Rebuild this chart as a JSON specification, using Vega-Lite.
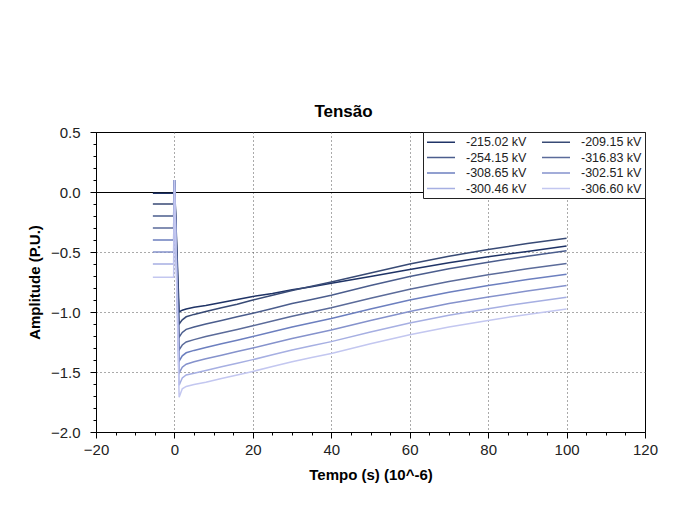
{
  "$schema": "https://vega.github.io/schema/vega-lite/v6.json",
  "width": 549,
  "height": 300,
  "autosize": {"type": "none"},
  "padding": {"left": 96, "top": 132, "right": 36, "bottom": 99},
  "background": "white",
  "title": {"text": "Tensão", "font": "Liberation Sans", "fontSize": 17, "fontWeight": "bold", "color": "#000", "frame": "group", "anchor": "middle", "dx": -27, "dy": 15, "offset": 6, "baseline": "alphabetic"},
  "config": {"view": {"stroke": "#000", "strokeWidth": 1}, "font": "Liberation Sans"},
  "datasets": {
    "curves": [
      {"s":"-215.02 kV","t":-5.5,"v":-0.01},{"s":"-215.02 kV","t":-0.2,"v":-0.01},{"s":"-215.02 kV","t":0,"v":0.1},{"s":"-215.02 kV","t":1.2,"v":-1.0},{"s":"-215.02 kV","t":2,"v":-0.985},{"s":"-215.02 kV","t":3,"v":-0.975},{"s":"-215.02 kV","t":5,"v":-0.96},{"s":"-215.02 kV","t":8,"v":-0.945},{"s":"-215.02 kV","t":12,"v":-0.92},{"s":"-215.02 kV","t":16,"v":-0.895},{"s":"-215.02 kV","t":20,"v":-0.87},{"s":"-215.02 kV","t":25,"v":-0.845},{"s":"-215.02 kV","t":30,"v":-0.815},{"s":"-215.02 kV","t":35,"v":-0.79},{"s":"-215.02 kV","t":40,"v":-0.76},{"s":"-215.02 kV","t":50,"v":-0.705},{"s":"-215.02 kV","t":60,"v":-0.645},{"s":"-215.02 kV","t":70,"v":-0.59},{"s":"-215.02 kV","t":80,"v":-0.54},{"s":"-215.02 kV","t":90,"v":-0.495},{"s":"-215.02 kV","t":100,"v":-0.45},

      {"s":"-209.15 kV","t":-5.5,"v":-0.1},{"s":"-209.15 kV","t":-0.2,"v":-0.1},{"s":"-209.15 kV","t":0,"v":0.1},{"s":"-209.15 kV","t":1.2,"v":-1.1},{"s":"-209.15 kV","t":2,"v":-1.065},{"s":"-209.15 kV","t":3,"v":-1.04},{"s":"-209.15 kV","t":5,"v":-1.02},{"s":"-209.15 kV","t":8,"v":-0.995},{"s":"-209.15 kV","t":12,"v":-0.965},{"s":"-209.15 kV","t":16,"v":-0.935},{"s":"-209.15 kV","t":20,"v":-0.9},{"s":"-209.15 kV","t":25,"v":-0.86},{"s":"-209.15 kV","t":30,"v":-0.82},{"s":"-209.15 kV","t":35,"v":-0.785},{"s":"-209.15 kV","t":40,"v":-0.75},{"s":"-209.15 kV","t":50,"v":-0.675},{"s":"-209.15 kV","t":60,"v":-0.6},{"s":"-209.15 kV","t":70,"v":-0.535},{"s":"-209.15 kV","t":80,"v":-0.48},{"s":"-209.15 kV","t":90,"v":-0.43},{"s":"-209.15 kV","t":100,"v":-0.385},

      {"s":"-254.15 kV","t":-5.5,"v":-0.2},{"s":"-254.15 kV","t":-0.2,"v":-0.2},{"s":"-254.15 kV","t":0,"v":0.1},{"s":"-254.15 kV","t":1.2,"v":-1.21},{"s":"-254.15 kV","t":2,"v":-1.17},{"s":"-254.15 kV","t":3,"v":-1.145},{"s":"-254.15 kV","t":5,"v":-1.125},{"s":"-254.15 kV","t":8,"v":-1.1},{"s":"-254.15 kV","t":12,"v":-1.07},{"s":"-254.15 kV","t":16,"v":-1.04},{"s":"-254.15 kV","t":20,"v":-1.01},{"s":"-254.15 kV","t":25,"v":-0.97},{"s":"-254.15 kV","t":30,"v":-0.93},{"s":"-254.15 kV","t":35,"v":-0.895},{"s":"-254.15 kV","t":40,"v":-0.86},{"s":"-254.15 kV","t":50,"v":-0.78},{"s":"-254.15 kV","t":60,"v":-0.705},{"s":"-254.15 kV","t":70,"v":-0.64},{"s":"-254.15 kV","t":80,"v":-0.585},{"s":"-254.15 kV","t":90,"v":-0.535},{"s":"-254.15 kV","t":100,"v":-0.49},

      {"s":"-316.83 kV","t":-5.5,"v":-0.3},{"s":"-316.83 kV","t":-0.2,"v":-0.3},{"s":"-316.83 kV","t":0,"v":0.1},{"s":"-316.83 kV","t":1.2,"v":-1.315},{"s":"-316.83 kV","t":2,"v":-1.275},{"s":"-316.83 kV","t":3,"v":-1.25},{"s":"-316.83 kV","t":5,"v":-1.23},{"s":"-316.83 kV","t":8,"v":-1.205},{"s":"-316.83 kV","t":12,"v":-1.175},{"s":"-316.83 kV","t":16,"v":-1.145},{"s":"-316.83 kV","t":20,"v":-1.115},{"s":"-316.83 kV","t":25,"v":-1.075},{"s":"-316.83 kV","t":30,"v":-1.035},{"s":"-316.83 kV","t":35,"v":-1.0},{"s":"-316.83 kV","t":40,"v":-0.965},{"s":"-316.83 kV","t":50,"v":-0.885},{"s":"-316.83 kV","t":60,"v":-0.81},{"s":"-316.83 kV","t":70,"v":-0.745},{"s":"-316.83 kV","t":80,"v":-0.69},{"s":"-316.83 kV","t":90,"v":-0.64},{"s":"-316.83 kV","t":100,"v":-0.595},

      {"s":"-308.65 kV","t":-5.5,"v":-0.4},{"s":"-308.65 kV","t":-0.2,"v":-0.4},{"s":"-308.65 kV","t":0,"v":0.1},{"s":"-308.65 kV","t":1.2,"v":-1.41},{"s":"-308.65 kV","t":2,"v":-1.365},{"s":"-308.65 kV","t":3,"v":-1.34},{"s":"-308.65 kV","t":5,"v":-1.32},{"s":"-308.65 kV","t":8,"v":-1.295},{"s":"-308.65 kV","t":12,"v":-1.265},{"s":"-308.65 kV","t":16,"v":-1.235},{"s":"-308.65 kV","t":20,"v":-1.205},{"s":"-308.65 kV","t":25,"v":-1.165},{"s":"-308.65 kV","t":30,"v":-1.125},{"s":"-308.65 kV","t":35,"v":-1.09},{"s":"-308.65 kV","t":40,"v":-1.055},{"s":"-308.65 kV","t":50,"v":-0.975},{"s":"-308.65 kV","t":60,"v":-0.9},{"s":"-308.65 kV","t":70,"v":-0.835},{"s":"-308.65 kV","t":80,"v":-0.78},{"s":"-308.65 kV","t":90,"v":-0.73},{"s":"-308.65 kV","t":100,"v":-0.685},

      {"s":"-302.51 kV","t":-5.5,"v":-0.5},{"s":"-302.51 kV","t":-0.2,"v":-0.5},{"s":"-302.51 kV","t":0,"v":0.1},{"s":"-302.51 kV","t":1.2,"v":-1.51},{"s":"-302.51 kV","t":2,"v":-1.46},{"s":"-302.51 kV","t":3,"v":-1.435},{"s":"-302.51 kV","t":5,"v":-1.415},{"s":"-302.51 kV","t":8,"v":-1.39},{"s":"-302.51 kV","t":12,"v":-1.36},{"s":"-302.51 kV","t":16,"v":-1.33},{"s":"-302.51 kV","t":20,"v":-1.3},{"s":"-302.51 kV","t":25,"v":-1.26},{"s":"-302.51 kV","t":30,"v":-1.22},{"s":"-302.51 kV","t":35,"v":-1.185},{"s":"-302.51 kV","t":40,"v":-1.15},{"s":"-302.51 kV","t":50,"v":-1.07},{"s":"-302.51 kV","t":60,"v":-0.995},{"s":"-302.51 kV","t":70,"v":-0.93},{"s":"-302.51 kV","t":80,"v":-0.875},{"s":"-302.51 kV","t":90,"v":-0.825},{"s":"-302.51 kV","t":100,"v":-0.78},

      {"s":"-300.46 kV","t":-5.5,"v":-0.6},{"s":"-300.46 kV","t":-0.2,"v":-0.6},{"s":"-300.46 kV","t":0,"v":0.1},{"s":"-300.46 kV","t":1.2,"v":-1.61},{"s":"-300.46 kV","t":2,"v":-1.55},{"s":"-300.46 kV","t":3,"v":-1.525},{"s":"-300.46 kV","t":5,"v":-1.51},{"s":"-300.46 kV","t":8,"v":-1.487},{"s":"-300.46 kV","t":12,"v":-1.457},{"s":"-300.46 kV","t":16,"v":-1.427},{"s":"-300.46 kV","t":20,"v":-1.397},{"s":"-300.46 kV","t":25,"v":-1.357},{"s":"-300.46 kV","t":30,"v":-1.317},{"s":"-300.46 kV","t":35,"v":-1.282},{"s":"-300.46 kV","t":40,"v":-1.247},{"s":"-300.46 kV","t":50,"v":-1.167},{"s":"-300.46 kV","t":60,"v":-1.092},{"s":"-300.46 kV","t":70,"v":-1.027},{"s":"-300.46 kV","t":80,"v":-0.972},{"s":"-300.46 kV","t":90,"v":-0.922},{"s":"-300.46 kV","t":100,"v":-0.877},

      {"s":"-306.60 kV","t":-5.5,"v":-0.71},{"s":"-306.60 kV","t":-0.2,"v":-0.71},{"s":"-306.60 kV","t":0,"v":0.1},{"s":"-306.60 kV","t":1.2,"v":-1.71},{"s":"-306.60 kV","t":2,"v":-1.64},{"s":"-306.60 kV","t":3,"v":-1.62},{"s":"-306.60 kV","t":5,"v":-1.605},{"s":"-306.60 kV","t":8,"v":-1.585},{"s":"-306.60 kV","t":12,"v":-1.555},{"s":"-306.60 kV","t":16,"v":-1.525},{"s":"-306.60 kV","t":20,"v":-1.495},{"s":"-306.60 kV","t":25,"v":-1.455},{"s":"-306.60 kV","t":30,"v":-1.415},{"s":"-306.60 kV","t":35,"v":-1.38},{"s":"-306.60 kV","t":40,"v":-1.345},{"s":"-306.60 kV","t":50,"v":-1.265},{"s":"-306.60 kV","t":60,"v":-1.19},{"s":"-306.60 kV","t":70,"v":-1.125},{"s":"-306.60 kV","t":80,"v":-1.07},{"s":"-306.60 kV","t":90,"v":-1.02},{"s":"-306.60 kV","t":100,"v":-0.975}
    ]
  },
  "data": {"name": "curves"},
  "mark": {"type": "line", "strokeWidth": 1.5, "interpolate": "linear"},
  "encoding": {
    "x": {
      "field": "t", "type": "quantitative",
      "scale": {"domain": [-20, 120], "nice": false, "zero": false},
      "axis": {
        "values": [-20,-15,-10,-5,0,5,10,15,20,25,30,35,40,45,50,55,60,65,70,75,80,85,90,95,100,105,110,115,120],
        "labelExpr": "datum.value % 20 === 0 ? datum.label : ''",
        "tickSize": {"condition": {"test": "datum.value % 20 === 0", "value": 6}, "value": 3},
        "grid": true,
        "gridOpacity": {"condition": {"test": "datum.value % 20 === 0 && datum.value > -20 && datum.value < 120", "value": 1}, "value": 0},
        "gridDash": [1, 3],
        "gridColor": "#555",
        "domainColor": "#000",
        "tickColor": "#000",
        "labelFont": "Liberation Sans",
        "labelFontSize": 15,
        "labelColor": "#222",
        "labelPadding": 4,
        "labelFlush": false,
        "title": "Tempo (s) (10^-6)",
        "titleFont": "Liberation Sans",
        "titleFontSize": 15,
        "titleFontWeight": "bold",
        "titleColor": "#000",
        "titlePadding": 10
      }
    },
    "y": {
      "field": "v", "type": "quantitative",
      "scale": {"domain": [-2, 0.5], "nice": false, "zero": false},
      "axis": {
        "values": [0.5,0.4,0.3,0.2,0.1,0,-0.1,-0.2,-0.3,-0.4,-0.5,-0.6,-0.7,-0.8,-0.9,-1.0,-1.1,-1.2,-1.3,-1.4,-1.5,-1.6,-1.7,-1.8,-1.9,-2.0],
        "format": ".1f",
        "labelExpr": "abs(datum.value*2 - round(datum.value*2)) < 0.001 ? datum.label : ''",
        "tickSize": {"condition": {"test": "abs(datum.value*2 - round(datum.value*2)) < 0.001", "value": 6}, "value": 3},
        "grid": true,
        "gridOpacity": {"condition": {"test": "abs(datum.value*2 - round(datum.value*2)) < 0.001 && datum.value < 0.4 && datum.value > -1.9", "value": 1}, "value": 0},
        "gridDash": {"condition": {"test": "datum.value === 0", "value": []}, "value": [1, 3]},
        "gridColor": {"condition": {"test": "datum.value === 0", "value": "#000"}, "value": "#555"},
        "domainColor": "#000",
        "tickColor": "#000",
        "labelFont": "Liberation Sans",
        "labelFontSize": 15,
        "labelColor": "#222",
        "labelPadding": 10,
        "labelFlush": false,
        "title": "Amplitude (P.U.)",
        "titleFont": "Liberation Sans",
        "titleFontSize": 15,
        "titleFontWeight": "bold",
        "titleColor": "#000",
        "titlePadding": 8
      }
    },
    "color": {
      "field": "s", "type": "nominal",
      "scale": {
        "domain": ["-215.02 kV","-209.15 kV","-254.15 kV","-316.83 kV","-308.65 kV","-302.51 kV","-300.46 kV","-306.60 kV"],
        "range": ["#1f3366","#384a75","#4b5d8d","#5b6b9a","#6c7fbf","#8592cc","#a6afe2","#c3c7f0"]
      },
      "legend": {
        "title": null,
        "orient": "top-right",
        "direction": "horizontal",
        "offset": 0,
        "columns": 2,
        "symbolType": "M-1,0H3.667",
        "symbolSize": 144,
        "symbolStrokeWidth": 1.5,
        "symbolFillColor": "transparent",
        "labelFont": "Liberation Sans",
        "labelFontSize": 12.5,
        "labelColor": "#222",
        "labelOffset": 26,
        "labelExpr": "indexof(['-209.15 kV','-316.83 kV','-302.51 kV','-306.60 kV'], datum.label) >= 0 ? datum.label + '  ' : datum.label",
        "padding": 3,
        "columnPadding": 12,
        "rowPadding": 1.5,
        "strokeColor": "#222",
        "fillColor": "white",
        "cornerRadius": 0
      }
    }
  }
}
